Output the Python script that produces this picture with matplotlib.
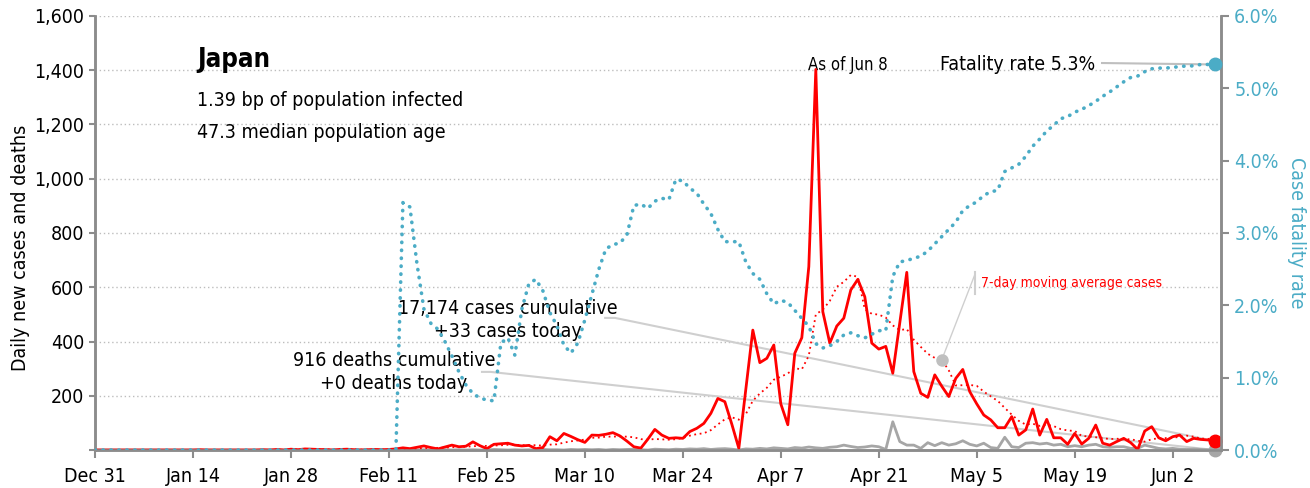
import os
import numpy as np
import pandas as pd
import matplotlib
matplotlib.use('Agg')
import matplotlib.pyplot as plt
from matplotlib import font_manager as fm
from matplotlib.ticker import FuncFormatter

# look for a narrow face on disk (regular, bold)
FACES = [('NotoSans-ExtraCondensed.ttf', 'NotoSans-ExtraCondensedSemiBold.ttf'),
         ('NotoSans-Condensed.ttf', 'NotoSans-CondensedSemiBold.ttf'),
         ('LiberationSansNarrow-Regular.ttf', 'LiberationSansNarrow-Bold.ttf'),
         ('DejaVuSansCondensed.ttf', 'DejaVuSansCondensed-Bold.ttf')]
paths = {os.path.basename(f.fname): f.fname for f in fm.fontManager.ttflist}
REG = BOLD = None
for r, b in FACES:
    if r in paths:
        REG = paths[r]
        BOLD = paths.get(b, REG)
        break


def fp(size, bold=False):
    if REG:
        return fm.FontProperties(fname=BOLD if bold else REG, size=size)
    return fm.FontProperties(family=['Roboto', 'DejaVu Sans'], size=size,
                             weight='bold' if bold else 'normal')


# day 0 = Dec 31
tick_days = [0, 14, 28, 42, 56, 70, 84, 98, 112, 126, 140, 154]
tick_labels = ['Dec 31', 'Jan 14', 'Jan 28', 'Feb 11', 'Feb 25', 'Mar 10',
               'Mar 24', 'Apr 7', 'Apr 21', 'May 5', 'May 19', 'Jun 2']

# daily new cases, day 0..160
cases = ([0] * 15 + [1] + [0] * 8 +
         [1, 0, 2, 0, 3, 1, 4, 3, 2, 1, 0, 2, 3, 1, 0, 1, 2, 1, 2, 4, 8, 5, 10,
          15, 9, 4, 11, 18, 12, 14, 30, 16, 5, 21, 23, 25, 18, 15, 17, 5, 9,
          49, 34, 61, 50, 38, 28, 55, 54, 58, 64, 52, 33, 12, 7, 40, 76, 55,
          43, 45, 43, 68, 80, 98, 135, 190, 178, 95, 6, 225, 442, 322, 338,
          387, 170, 93, 357, 414, 676, 1403, 510, 394, 457, 486, 590, 629,
          565, 394, 372, 382, 283, 470, 655, 289, 209, 194, 277, 235, 197,
          264, 297, 215, 170, 129, 111, 82, 82, 123, 55, 74, 151, 55, 113,
          45, 45, 21, 61, 22, 43, 92, 25, 18, 31, 43, 27, 2, 70, 86, 45, 34,
          49, 55, 31, 43, 39, 37, 33])

# daily new deaths
deaths = ([0] * 44 +
          [1, 0, 0, 1, 0, 0, 1, 0, 1, 0, 1, 0, 0, 2, 1, 0, 1, 0, 1, 0, 2, 1,
           1, 0, 2, 1, 2, 1, 2, 0, 2, 1, 2, 3, 1, 0, 3, 2, 1, 3, 2, 4, 3, 5,
           2, 4, 5, 3, 0, 4, 3, 6, 4, 8, 6, 4, 9, 7, 11, 8, 6, 10, 12, 18, 13,
           9, 11, 15, 12, 2, 104, 31, 18, 18, 6, 27, 16, 27, 18, 23, 34, 21,
           15, 25, 9, 6, 47, 12, 9, 25, 27, 22, 25, 18, 21, 12, 16, 12, 18,
           21, 12, 10, 12, 12, 6, 6, 18, 12, 6, 4, 6, 3, 2, 4, 2, 1, 0])

# case fatality rate, %
cfr = ([0.0] * 44 +
       [3.42, 3.36, 2.58, 1.95, 1.75, 1.67, 1.50, 1.30, 1.08, 0.90, 0.78,
        0.72, 0.69, 0.68, 1.48, 1.55, 1.31, 1.95, 2.30, 2.36, 2.20, 1.90,
        1.72, 1.45, 1.34, 1.48, 1.80, 2.15, 2.50, 2.78, 2.84, 2.86, 2.97,
        3.38, 3.40, 3.34, 3.44, 3.48, 3.46, 3.74, 3.72, 3.62, 3.55, 3.40,
        3.27, 3.05, 2.88, 2.88, 2.88, 2.60, 2.44, 2.36, 2.16, 2.02, 2.07,
        2.04, 1.93, 1.82, 1.71, 1.47, 1.41, 1.44, 1.50, 1.59, 1.62, 1.58,
        1.55, 1.60, 1.65, 1.65, 2.40, 2.60, 2.62, 2.65, 2.68, 2.75, 2.85,
        2.95, 3.05, 3.15, 3.31, 3.38, 3.43, 3.52, 3.57, 3.59, 3.85, 3.90,
        3.95, 4.06, 4.20, 4.30, 4.41, 4.49, 4.58, 4.61, 4.67, 4.71, 4.76,
        4.82, 4.89, 4.95, 5.02, 5.09, 5.15, 5.17, 5.23, 5.27, 5.28, 5.28,
        5.29, 5.30, 5.31, 5.31, 5.33, 5.33, 5.33])

days = np.arange(len(cases))
ma7 = pd.Series(cases).rolling(7, min_periods=1).mean().values

RED = '#ff0000'
BLUE = '#4bacc6'
GRAY = '#a6a6a6'
AXC = '#8c8c8c'
LINEC = '#cfcfcf'

fig = plt.figure(figsize=(13.1, 4.88), dpi=100)
ax = fig.add_axes([95 / 1310, 38 / 488, 1126 / 1310, 434 / 488])
ax2 = ax.twinx()

ax.set_xlim(0, 160.9)
ax.set_ylim(0, 1600)
ax2.set_ylim(0, 6)

ax.set_yticks(range(0, 1601, 200))
ax.yaxis.set_major_formatter(FuncFormatter(lambda v, p: '' if v == 0 else f'{int(v):,}'))
ax.yaxis.grid(True, linestyle=(0, (1, 2)), color='#bdbdbd', lw=1)
ax.set_axisbelow(True)
ax2.set_yticks(range(0, 7))
ax2.yaxis.set_major_formatter(FuncFormatter(lambda v, p: f'{v:.1f}%'))

ax.set_xticks(tick_days)
ax.set_xticklabels(tick_labels)

for a in (ax, ax2):
    a.spines['top'].set_visible(False)
    for s in ('left', 'right', 'bottom'):
        a.spines[s].set_color(AXC)
        a.spines[s].set_linewidth(1.8)
ax.tick_params(axis='x', length=6, width=1.5, color=AXC, pad=6)
ax.tick_params(axis='y', length=4, width=1.5, color=AXC)
ax2.tick_params(axis='y', length=6, width=1.5, color=AXC, labelcolor=BLUE)

ax.set_ylabel('Daily new cases and deaths', fontproperties=fp(14))
ax.yaxis.set_label_coords(-0.058, 0.465)
ax2.set_ylabel('Case fatality rate', fontproperties=fp(14), color=BLUE,
               rotation=270, labelpad=20)

# series
ax.plot(days, deaths, color=GRAY, lw=2, zorder=3)
ax.plot(days, cases, color=RED, lw=2, zorder=4)
ax.plot(days, ma7, color=RED, lw=1.3, ls=(0, (1, 2)), zorder=4)
ax2.plot(days, cfr, color=BLUE, lw=2.6, ls=(0, (0.1, 2.1)),
         dash_capstyle='round', zorder=3)

# end markers
ax.plot(days[-1], deaths[-1], 'o', color=GRAY, ms=9, clip_on=False, zorder=6)
ax.plot(days[-1], cases[-1], 'o', color=RED, ms=9, clip_on=False, zorder=6)
ax2.plot(days[-1], cfr[-1], 'o', color=BLUE, ms=9, clip_on=False, zorder=6)

# labels and connectors
ax.text(14.6, 1438, 'Japan', fontproperties=fp(18.5, bold=True), va='center')
ax.text(14.6, 1290, '1.39 bp of population infected', fontproperties=fp(14),
        va='center')
ax.text(14.6, 1169, '47.3 median population age', fontproperties=fp(14),
        va='center')
ax.text(107.6, 1420, 'As of Jun 8', fontproperties=fp(12), ha='center',
        va='center')

ax2.text(142.9, cfr[-1], 'Fatality rate 5.3%', fontproperties=fp(14),
         ha='right', va='center')
ax2.plot([143.9, days[-1]], [cfr[-1] + 0.02, cfr[-1]], color='#bfbfbf', lw=1.5,
         zorder=2)

ax.text(59.0, 480, '17,174 cases cumulative\n+33 cases today',
        fontproperties=fp(14), ha='center', va='center', linespacing=1.25)
ax.plot([72.9, 74.3, days[-1]], [487, 487, cases[-1]], color=LINEC, lw=1.5,
        zorder=2)

ax.text(42.7, 288, '916 deaths cumulative\n+0 deaths today',
        fontproperties=fp(14), ha='center', va='center', linespacing=1.25)
ax.plot([55.3, 56.5, days[-1]], [288, 288, deaths[-1]], color=LINEC, lw=1.5,
        zorder=2)

ma_day = 121
ax.plot(ma_day, ma7[ma_day], 'o', color='#bfbfbf', ms=8, zorder=6)
ax.plot([ma_day, 125.7], [ma7[ma_day], 645], color=LINEC, lw=1, zorder=5)
ax.plot([125.7, 125.7], [575, 656], color=LINEC, lw=1.5, zorder=5)
ax.text(126.6, 616, '7-day moving average cases', fontproperties=fp(10),
        color=RED, va='center')

fig.canvas.draw()
for lab in ax.get_xticklabels() + ax.get_yticklabels() + ax2.get_yticklabels():
    lab.set_fontproperties(fp(14))

fig.savefig('out.png', dpi=100)
